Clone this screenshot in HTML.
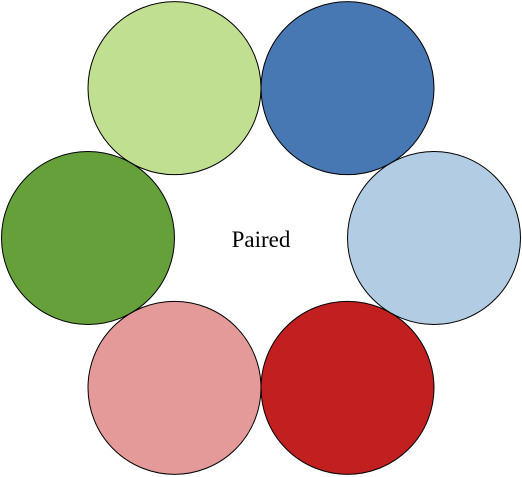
<!DOCTYPE html>
<html><head><meta charset="utf-8"><style>
html,body{margin:0;padding:0;background:#fff;}
svg{display:block;}
</style></head><body>
<svg id="chart" width="522" height="477" viewBox="0 0 522 477" xmlns="http://www.w3.org/2000/svg">
<text x="261" y="247" text-anchor="middle" font-family="Liberation Serif, serif" font-size="23" fill="#000">Paired</text>
</svg>
<script>
const swatchNames = ['blue','light-blue','red','pink','green','light-green'];
const swatchColors = ['#4878b3','#b2cde3','#c21f20','#e49a99','#65a03a','#c1df91'];
const cx = 261, cy = 238, ringR = 173, circleR = 86.5;
const svg = document.getElementById('chart');
const ns = 'http://www.w3.org/2000/svg';
swatchColors.forEach((c, i) => {
  const a = (-60 + 60 * i) * Math.PI / 180;
  const el = document.createElementNS(ns, 'circle');
  el.setAttribute('cx', cx + ringR * Math.cos(a));
  el.setAttribute('cy', cy + ringR * Math.sin(a));
  el.setAttribute('r', circleR);
  el.setAttribute('fill', c);
  el.setAttribute('stroke', '#000');
  el.setAttribute('stroke-width', '1');
  
  
  svg.insertBefore(el, svg.firstChild);
});
</script>
</body></html>
